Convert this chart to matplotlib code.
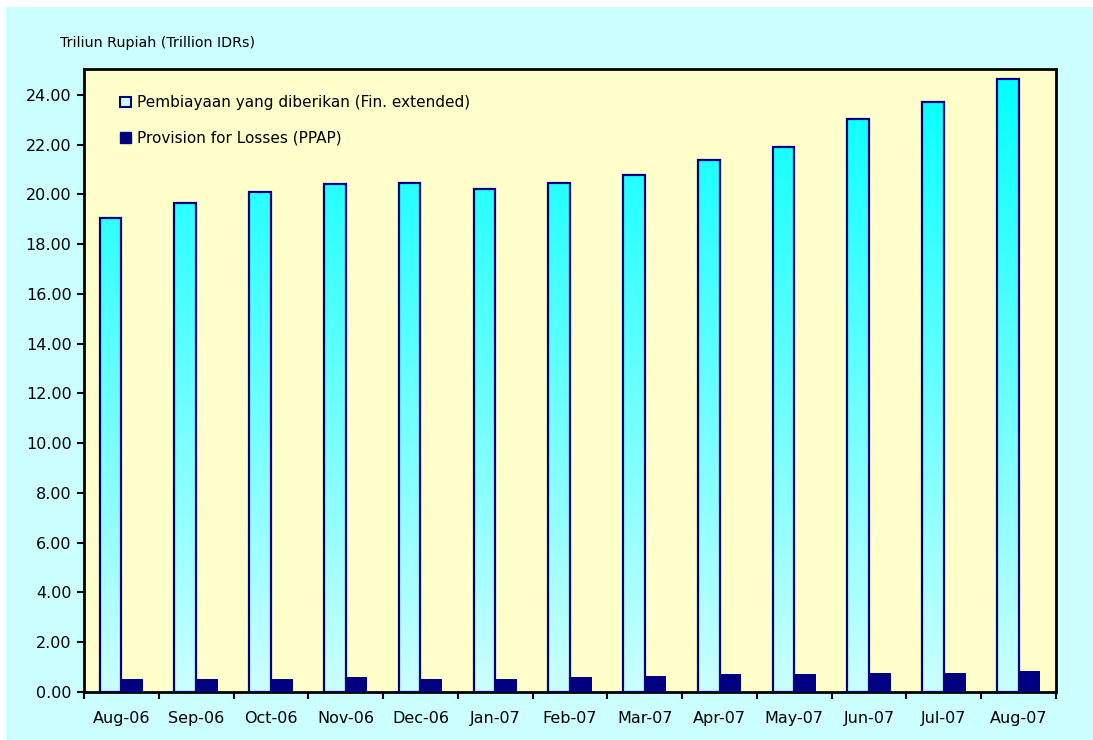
import numpy as np
import matplotlib
matplotlib.use('Agg')
import matplotlib.pyplot as plt
from matplotlib.patches import Rectangle, Patch
from matplotlib.colors import LinearSegmentedColormap

# data
bulan = ['Aug-06', 'Sep-06', 'Oct-06', 'Nov-06', 'Dec-06', 'Jan-07', 'Feb-07',
         'Mar-07', 'Apr-07', 'May-07', 'Jun-07', 'Jul-07', 'Aug-07']
pembiayaan = [19.06, 19.66, 20.10, 20.42, 20.46, 20.22, 20.46,
              20.78, 21.39, 21.91, 23.04, 23.72, 24.64]
ppap = [0.52, 0.52, 0.52, 0.62, 0.52, 0.52, 0.60,
        0.65, 0.74, 0.74, 0.76, 0.76, 0.84]

plt.rcParams['font.family'] = ['DejaVu Sans']
plt.rcParams['hatch.color'] = '#9999CC'
plt.rcParams['hatch.linewidth'] = 1.0

fig = plt.figure(figsize=(10.93, 7.40), dpi=100, facecolor='#CCFFFF')
# white strip top and left
fig.patches.append(Rectangle((0, 1 - 7/740), 1, 7/740, transform=fig.transFigure,
                             facecolor='white', edgecolor='none', zorder=-10))
fig.patches.append(Rectangle((0, 0), 6/1093, 1, transform=fig.transFigure,
                             facecolor='white', edgecolor='none', zorder=-10))

ax = fig.add_axes([84/1093, 1 - 692/740, 972/1093, 623/740])
ax.set_facecolor('#FFFFCC')

x = np.arange(len(bulan))
w = 0.29

# cyan bars with vertical gradient
cmap = LinearSegmentedColormap.from_list('cy', ['#CCFFFF', '#00FFFF'])
grad = np.linspace(0, 1, 256).reshape(-1, 1)
bars = ax.bar(x - 0.145, pembiayaan, width=w, facecolor='none',
              edgecolor='#000080', linewidth=1.6, zorder=3)
for b in bars:
    bx, bw = b.get_x(), b.get_width()
    im = ax.imshow(grad, extent=[bx, bx + bw, 0, 25], origin='lower', cmap=cmap,
                   aspect='auto', zorder=2)
    im.set_clip_path(b)

ax.bar(x + 0.145, ppap, width=w, color='#000080', edgecolor='#000080',
       hatch='.', linewidth=0, zorder=3)

ax.set_xlim(-0.5, len(bulan) - 0.5)
ax.set_ylim(0, 25.04)
yt = np.arange(0, 25, 2)
ax.set_yticks(yt)
ax.set_yticklabels([f'{v:.2f}' for v in yt], fontsize=11.5)
ax.set_xticks(x)
ax.set_xticklabels(bulan, fontsize=11.5)
ax.set_xticks(np.arange(-0.5, len(bulan), 1), minor=True)
ax.tick_params(axis='x', which='major', length=0, pad=14)
ax.tick_params(axis='x', which='minor', length=5, width=1.5, direction='out')
ax.tick_params(axis='y', length=5, width=1.5, direction='out', pad=4)
for s in ax.spines.values():
    s.set_linewidth(2)
    s.set_color('black')

fig.text(60/1093, 1 - 43/740, 'Triliun Rupiah (Trillion IDRs)', fontsize=10.3,
         va='center', ha='left')

handles = [Patch(facecolor='#CCFFFF', edgecolor='#000080', linewidth=1.5),
           Patch(facecolor='#000080', edgecolor='#000080')]
ax.legend(handles, ['Pembiayaan yang diberikan (Fin. extended)',
                    'Provision for Losses (PPAP)'],
          loc='upper left', bbox_to_anchor=(0.023, 0.98), frameon=False,
          fontsize=11, handlelength=0.7, handleheight=0.7, handletextpad=0.4,
          labelspacing=1.35)

fig.savefig('out.png', dpi=100, facecolor=fig.get_facecolor())
